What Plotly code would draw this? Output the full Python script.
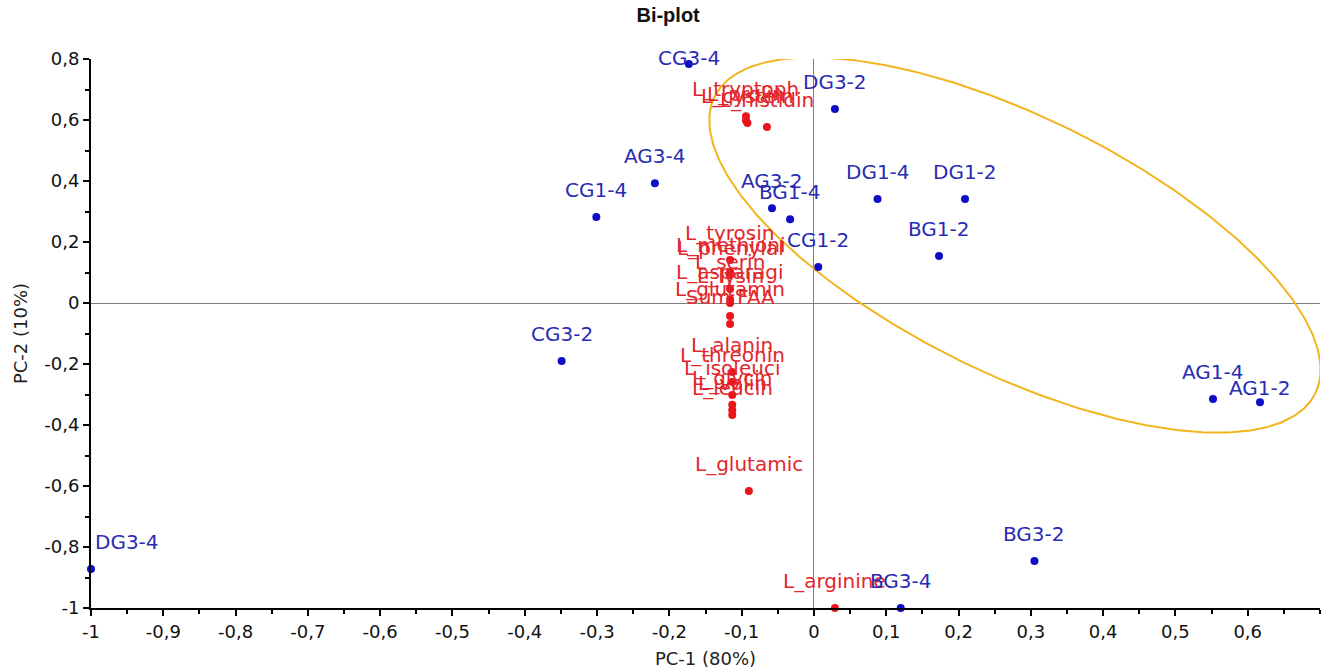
import numpy as np
import plotly.graph_objects as go

# ---------------- data ----------------
obs_names = ["CG3-4", "DG3-2", "AG3-4", "CG1-4", "AG3-2", "BG1-4", "CG1-2", "DG1-4",
             "DG1-2", "BG1-2", "CG3-2", "AG1-4", "AG1-2", "BG3-2", "BG3-4", "DG3-4"]
obs_x = [-0.173, 0.029, -0.220, -0.301, -0.058, -0.033, 0.006, 0.088,
         0.209, 0.173, -0.349, 0.552, 0.617, 0.305, 0.120, -1.000]
obs_y = [0.784, 0.636, 0.393, 0.282, 0.311, 0.275, 0.118, 0.341,
         0.341, 0.154, -0.190, -0.315, -0.325, -0.846, -1.000, -0.872]

var_names = ["L_tryptoph", "L_prolin", "L_cystein", "L_histidin",
             "L_tyrosin", "L_methioni", "L_phenylal", "L_serin", "L_asparagi",
             "L_lysin", "L_glutamin", "Sum FAA",
             "L_alanin", "L_threonin", "L_isoleuci", "L_glycin", "L_valin", "L_leucin",
             "L_glutamic", "L_arginine"]
var_x = [-0.094, -0.094, -0.092, -0.065,
         -0.116, -0.116, -0.116, -0.116, -0.116,
         -0.116, -0.116, -0.116,
         -0.113, -0.113, -0.113, -0.113, -0.113, -0.113,
         -0.090, 0.029]
var_y = [0.612, 0.598, 0.590, 0.577,
         0.141, 0.102, 0.092, 0.046, 0.012,
         0.000, -0.043, -0.069,
         -0.226, -0.259, -0.302, -0.334, -0.351, -0.367,
         -0.616, -1.000]

x_tick_vals = [-1.0, -0.9, -0.8, -0.7, -0.6, -0.5, -0.4, -0.3, -0.2, -0.1,
               0.0, 0.1, 0.2, 0.3, 0.4, 0.5, 0.6]
x_tick_text = ["-1", "-0,9", "-0,8", "-0,7", "-0,6", "-0,5", "-0,4", "-0,3", "-0,2", "-0,1",
               "0", "0,1", "0,2", "0,3", "0,4", "0,5", "0,6"]
y_tick_vals = [-1.0, -0.8, -0.6, -0.4, -0.2, 0.0, 0.2, 0.4, 0.6, 0.8]
y_tick_text = ["-1", "-0,8", "-0,6", "-0,4", "-0,2", "0", "0,2", "0,4", "0,6", "0,8"]

# ---------------- styling ----------------
X_RANGE = [-1.0, 0.7]
Y_RANGE = [-1.0, 0.8]
W, H = 1323, 672
M = dict(l=91, r=3, t=59, b=64)
px_per_x = (W - M["l"] - M["r"]) / (X_RANGE[1] - X_RANGE[0])
px_per_y = (H - M["t"] - M["b"]) / (Y_RANGE[1] - Y_RANGE[0])

FONT = "DejaVu Sans"
BLUE = "#0d0dc8"
BLUE_TXT = "#2a2cb4"
RED = "#e8161b"
RED_TXT = "#e2262b"
ORANGE = "#f2b520"

label_shift = 27
shift_override = {"CG3-4": 6, "AG1-2": 14}

fig = go.Figure()

# highlight ellipse (pixel-based semi-axes, rotated)
ell_center = (0.278, 0.19)
ell_a, ell_b, ell_theta = 335.0, 128.0, np.deg2rad(26.3)
t = np.linspace(0, 2 * np.pi, 400)
dx = ell_a * np.cos(t) * np.cos(ell_theta) - ell_b * np.sin(t) * np.sin(ell_theta)
dy = ell_a * np.cos(t) * np.sin(ell_theta) + ell_b * np.sin(t) * np.cos(ell_theta)
fig.add_trace(go.Scatter(x=ell_center[0] + dx / px_per_x, y=ell_center[1] - dy / px_per_y,
                         mode="lines", line=dict(color=ORANGE, width=2),
                         hoverinfo="skip", showlegend=False))

fig.add_trace(go.Scatter(x=var_x, y=var_y, mode="markers",
                         marker=dict(color=RED, size=8), cliponaxis=False,
                         text=var_names, showlegend=False))
fig.add_trace(go.Scatter(x=obs_x, y=obs_y, mode="markers",
                         marker=dict(color=BLUE, size=8), cliponaxis=False,
                         text=obs_names, showlegend=False))

annotations = []
for n, x, y in zip(var_names, var_x, var_y):
    annotations.append(dict(x=x, y=y, text=n, showarrow=False, yshift=label_shift,
                            font=dict(family=FONT, size=20, color=RED_TXT)))
for n, x, y in zip(obs_names, obs_x, obs_y):
    a = dict(x=x, y=y, text=n, showarrow=False, yshift=shift_override.get(n, label_shift),
             font=dict(family=FONT, size=20, color=BLUE_TXT))
    if x <= X_RANGE[0]:
        a["xanchor"] = "left"
        a["xshift"] = 2
    annotations.append(a)

axis_common = dict(showgrid=False, zeroline=True, zerolinecolor="#7f7f7f", zerolinewidth=1,
                   showline=True, linecolor="black", linewidth=2,
                   ticks="outside", ticklen=6, tickwidth=1.5, tickcolor="black",
                   tickfont=dict(family=FONT, size=18, color="#111111"),
                   tickmode="array")

fig.update_layout(
    width=W, height=H, margin=M,
    paper_bgcolor="white", plot_bgcolor="white",
    title=dict(text="<b>Bi-plot</b>", x=0.505, xref="container", y=1 - 15 / H,
               yanchor="middle", xanchor="center",
               font=dict(family="Liberation Sans", size=20, color="#111111")),
    xaxis=dict(range=X_RANGE, tickvals=x_tick_vals, ticktext=x_tick_text,
               minor=dict(tickmode="linear", tick0=0, dtick=0.05, ticks="outside",
                          ticklen=4, tickcolor="black", showgrid=False),
               title=dict(text="PC-1 (80%)", standoff=12,
                          font=dict(family=FONT, size=18, color="#222222")),
               **axis_common),
    yaxis=dict(range=Y_RANGE, tickvals=y_tick_vals, ticktext=y_tick_text,
               minor=dict(tickmode="linear", tick0=0, dtick=0.1, ticks="outside",
                          ticklen=4, tickcolor="black", showgrid=False),
               title=dict(text="PC-2 (10%)", standoff=12,
                          font=dict(family=FONT, size=18, color="#222222")),
               **axis_common),
    annotations=annotations,
    showlegend=False,
)

fig.write_html("out.html")
